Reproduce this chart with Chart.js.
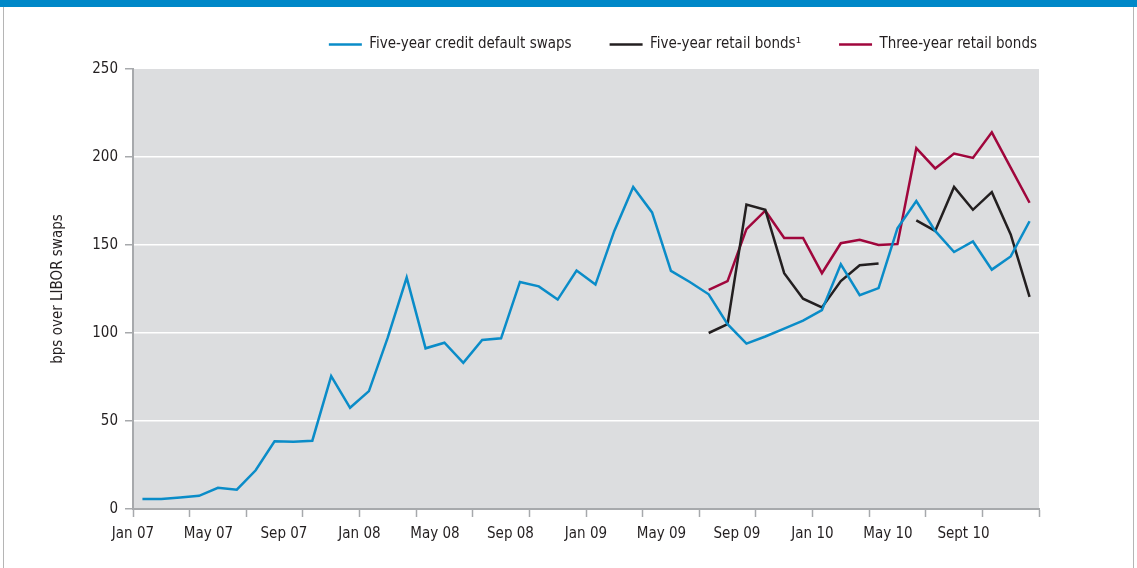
<!DOCTYPE html>
<html>
<head>
<meta charset="utf-8">
<script src="https://cdn.jsdelivr.net/npm/chart.js@4.4.1/dist/chart.umd.min.js"></script>
<style>
  html, body { margin: 0; padding: 0; background: #fff; }
  #topbar { position: absolute; left: 0; top: 0; width: 1137px; height: 7px; background: #0088c8; }
  .side { position: absolute; top: 7px; width: 1px; height: 561px; background: #b5b5b5; }
  #chartBox { position: absolute; left: 0; top: 0; width: 1137px; height: 568px; }
</style>
</head>
<body>
<div id="topbar"></div>
<div class="side" style="left:3px"></div>
<div class="side" style="left:1133px"></div>
<div id="chartBox"><canvas id="myChart" width="1137" height="568"></canvas></div>
<script>
'use strict';

// monthly values, Jan 07 .. Dec 10
var cdsFiveYear = [5.7, 5.7, 6.5, 7.5, 12, 11, 22, 38.5, 38.2, 38.8, 75.5, 57.5,
  67, 97.5, 131.5, 91.3, 94.5, 83, 96, 97, 129, 126.5, 119, 135.5,
  127.5, 158, 183, 168.5, 135.3, 129, 122, 105, 94, 98, 102.5, 107,
  113, 139, 121.5, 125.5, 159.5, 175, 158, 146, 152, 136, 143.5, 163.5];

// retail bond series start in Jul 09
var retailStart = 30;
var retailFiveYear = [100, 105, 173, 170, 134, 119.5, 114.5, 129.5, 138.5, 139.5,
  null, 164, 158, 183, 170, 180, 156, 120.5];
var retailThreeYear = [124.5, 129.5, 159, 169.5, 154, 154, 134, 151, 153, 150,
  150.5, 205, 193.5, 202, 199.5, 214, 194, 174];

var tickLabels = ['Jan 07', 'May 07', 'Sep 07', 'Jan 08', 'May 08', 'Sep 08',
  'Jan 09', 'May 09', 'Sep 09', 'Jan 10', 'May 10', 'Sept 10'];

var seriesNames = ['Five-year credit default swaps', 'Five-year retail bonds\u00b9', 'Three-year retail bonds'];
var seriesColors = ['#0a8cc8', '#231f20', '#a0063c'];

var FONT = "'Liberation Sans Narrow', 'DejaVu Sans Condensed', 'Open Sans', sans-serif";
var FONT_SIZE = 15;
var axisGrey = '#a7a9ac';

// points sit in the middle of their month
function toPoints(values, start) {
  return values.map(function(v, i) {
    return { x: start + i + 0.5, y: v };
  });
}

var plotBackground = {
  id: 'plotBackground',
  beforeDraw: function(chart) {
    var a = chart.chartArea;
    chart.ctx.save();
    chart.ctx.fillStyle = '#dcdddf';
    chart.ctx.fillRect(a.left, a.top, a.right - a.left, a.bottom - a.top);
    chart.ctx.restore();
  }
};

// nudge the legend: flush right with the plot, a bit higher
var legendNudge = {
  id: 'legendNudge',
  afterLayout: function(chart) {
    var lg = chart.legend;
    lg.left += 36; lg.right += 36;
    lg.top -= 7; lg.bottom -= 7;
  }
};

function lineSet(i, values, start) {
  return {
    label: seriesNames[i],
    data: toPoints(values, start),
    borderColor: seriesColors[i],
    backgroundColor: seriesColors[i],
    borderWidth: 2.5,
    pointRadius: 0,
    tension: 0,
    spanGaps: false
  };
}

var ctx = document.getElementById('myChart');
var myChart = new Chart(ctx, {
  type: 'line',
  data: {
    datasets: [
      lineSet(0, cdsFiveYear, 0),
      lineSet(1, retailFiveYear, retailStart),
      lineSet(2, retailThreeYear, retailStart)
    ]
  },
  plugins: [plotBackground, legendNudge],
  options: {
    responsive: false,
    devicePixelRatio: 1,
    animation: false,
    layout: { padding: { left: 0, right: 98, top: 6, bottom: 0 } },
    plugins: {
      tooltip: { enabled: false },
      legend: {
        position: 'top',
        align: 'end',
        labels: {
          usePointStyle: true,
          pointStyle: 'line',
          pointStyleWidth: 33,
          padding: 38,
          color: '#231f20',
          font: { family: FONT, size: FONT_SIZE }
        }
      }
    },
    scales: {
      x: {
        type: 'linear',
        min: 0,
        max: 48,
        afterBuildTicks: function(scale) {
          var t = [];
          for (var m = 0; m <= 48; m++) {
            if (m % 3 === 0 || m % 4 === 0) t.push({ value: m });
          }
          scale.ticks = t;
        },
        afterFit: function(scale) { scale.height = 59; },
        border: { color: axisGrey, width: 2 },
        grid: {
          drawOnChartArea: false,
          tickLength: 8,
          tickWidth: 1.5,
          tickColor: function(c) { return c.tick && c.tick.value % 3 === 0 ? axisGrey : 'rgba(0,0,0,0)'; }
        },
        ticks: {
          autoSkip: false,
          maxRotation: 0,
          padding: 8,
          color: '#231f20',
          font: { family: FONT, size: FONT_SIZE },
          callback: function(v) { return v % 4 === 0 && v < 48 ? tickLabels[v / 4] : ''; }
        }
      },
      y: {
        min: 0,
        max: 250,
        afterFit: function(scale) { scale.width = 133; },
        border: { color: axisGrey, width: 2 },
        grid: {
          color: function(c) { return c.tick && (c.tick.value === 0 || c.tick.value === 250) ? 'rgba(0,0,0,0)' : '#ffffff'; },
          lineWidth: 1.5,
          tickLength: 8,
          tickColor: axisGrey
        },
        ticks: {
          stepSize: 50,
          padding: 7,
          color: '#231f20',
          font: { family: FONT, size: FONT_SIZE }
        },
        title: {
          display: true,
          text: 'bps over LIBOR swaps',
          color: '#231f20',
          padding: { top: 49, bottom: 0 },
          font: { family: FONT, size: FONT_SIZE }
        }
      }
    }
  }
});
</script>
</body>
</html>
